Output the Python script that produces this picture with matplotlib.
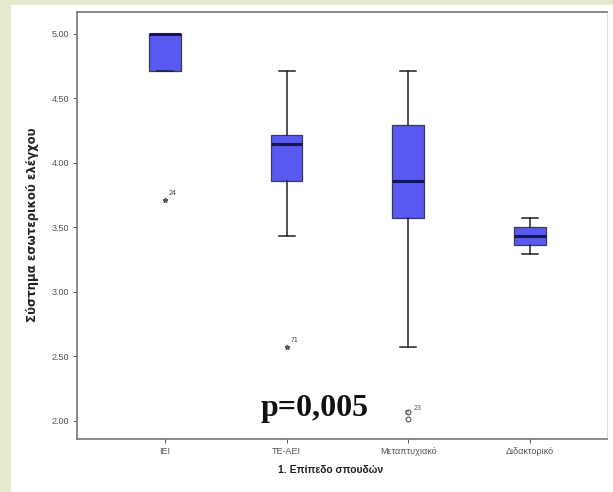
import matplotlib
matplotlib.use("Agg")
import matplotlib.pyplot as plt
from matplotlib.patches import Rectangle

categories = ["ΙΕΙ", "ΤΕ-ΑΕΙ", "Μεταπτυχιακό", "Διδακτορικό"]
whisk_lo = [4.71, 3.43, 2.57, 3.29]
q1 = [4.71, 3.86, 3.57, 3.36]
median = [5.00, 4.14, 3.86, 3.43]
q3 = [5.00, 4.21, 4.29, 3.50]
whisk_hi = [5.00, 4.71, 4.71, 3.57]
extremes = [[3.71], [2.57], [], []]
extreme_ids = [["24"], ["71"], [], []]
outliers = [[], [], [2.07, 2.01], []]
outlier_ids = [[], [], ["23", "61"], []]
yticks = [2.00, 2.50, 3.00, 3.50, 4.00, 4.50, 5.00]
ylabel = "Σύστημα εσωτερικού ελέγχου"
xlabel = "1. Επίπεδο σπουδών"
pvalue_text = "p=0,005"

plt.rcParams["font.family"] = ["Liberation Sans", "DejaVu Sans"]

fig = plt.figure(figsize=(6.13, 4.92), dpi=100)
fig.patch.set_facecolor("#e4eacd")
fig.patches.append(Rectangle((11 / 613, 0), 1 - 11 / 613, 1 - 4.5 / 492,
                             transform=fig.transFigure, facecolor="white",
                             edgecolor="none", zorder=-5))
ax = fig.add_axes([77 / 613, 1 - 439 / 492, (607 - 77) / 613, (439 - 12) / 492])
ax.set_facecolor("white")
ax.set_zorder(1)

stats = []
for i in range(len(categories)):
    stats.append(dict(whislo=whisk_lo[i], q1=q1[i], med=median[i], q3=q3[i],
                      whishi=whisk_hi[i], fliers=[]))
pos = list(range(1, len(categories) + 1))
ax.bxp(stats, positions=pos, widths=0.26, patch_artist=True, showfliers=False,
       boxprops=dict(facecolor="#5858f2", edgecolor="#3a3a5a", linewidth=0.9),
       medianprops=dict(color="#14145a", linewidth=2.2),
       whiskerprops=dict(color="#222222", linewidth=1.1),
       capprops=dict(color="#222222", linewidth=1.1),
       capwidths=0.13)

for i in range(len(categories)):
    for v, lab in zip(extremes[i], extreme_ids[i]):
        ax.plot(pos[i], v, marker="*", color="#555555", markersize=3.5, linestyle="none")
        ax.text(pos[i] + 0.03, v + 0.02, lab, fontsize=5, color="#444444",
                ha="left", va="bottom")
    for j, (v, lab) in enumerate(zip(outliers[i], outlier_ids[i])):
        ax.plot(pos[i], v, marker="o", markerfacecolor="none",
                markeredgecolor="#555555", markersize=3.5, markeredgewidth=0.8,
                linestyle="none")
        if j == 0:
            ax.text(pos[i] + 0.04, v, lab, fontsize=5, color="#555555",
                    ha="left", va="bottom")
        else:
            ax.text(pos[i] - 0.025, v + 0.05, lab, fontsize=3.5, color="#555555",
                    ha="left", va="bottom", rotation=90)

ax.set_xlim(0.277, 4.633)
ax.set_ylim(1.857, 5.167)
ax.set_xticks(pos)
ax.set_xticklabels(categories, fontsize=6.5, color="#555555")
ax.set_yticks(yticks)
ax.set_yticklabels([f"{t:.2f}" for t in yticks], fontsize=6.5, color="#555555")
ax.tick_params(axis="both", length=3, width=0.7, color="#555555", pad=2.5)

for s in ["left", "bottom", "top"]:
    ax.spines[s].set_color("#777777")
    ax.spines[s].set_linewidth(1.2)
ax.spines["right"].set_color("#dddddd")
ax.spines["right"].set_linewidth(0.8)

fig.text(33 / 613, 1 - 225 / 492, ylabel, rotation=90, fontsize=8.5, fontweight="bold",
         family=["DejaVu Sans"], ha="center", va="center", color="#222222")
fig.text(331 / 613, 1 - 470 / 492, xlabel, fontsize=7.5, fontweight="bold",
         ha="center", va="center", color="#222222")

ax.text(2.23, 2.09, pvalue_text, fontsize=23, fontweight="bold",
        family=["Liberation Serif", "DejaVu Serif"], ha="center", va="center",
        color="#111111")

fig.savefig("out.png", dpi=100)
